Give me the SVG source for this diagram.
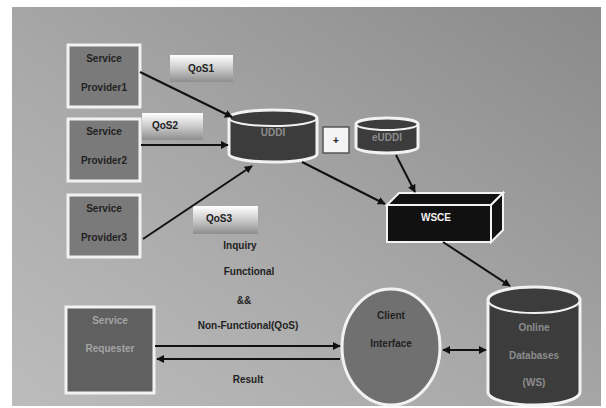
<svg xmlns="http://www.w3.org/2000/svg" width="606" height="408" viewBox="0 0 606 408">
<defs>
<linearGradient id="bg" x1="0" y1="1" x2="1" y2="0">
<stop offset="0" stop-color="#bcbcbc"/>
<stop offset="0.45" stop-color="#a8a8a8"/>
<stop offset="1" stop-color="#8a8a8a"/>
</linearGradient>
<linearGradient id="qos" x1="0" y1="0" x2="0" y2="1">
<stop offset="0" stop-color="#ffffff"/>
<stop offset="0.45" stop-color="#d0d0d0"/>
<stop offset="1" stop-color="#8e8e8e"/>
</linearGradient>
<marker id="ah" viewBox="0 0 10 10" refX="9" refY="5" markerWidth="4" markerHeight="4" orient="auto-start-reverse" markerUnits="strokeWidth">
<path d="M0,0 L10,5 L0,10 z" fill="#111"/>
</marker>
</defs>
<style>
.box{fill:#7a7a7a;stroke:#f2f2f2;stroke-width:3}
.t{font-family:"Liberation Sans",Arial,sans-serif;font-weight:bold;font-size:10px;text-anchor:middle;fill:#222}
.tw{font-family:"Liberation Sans",Arial,sans-serif;font-weight:bold;font-size:10px;text-anchor:middle;fill:#f2f2f2}
.td{font-family:"Liberation Sans",Arial,sans-serif;font-weight:bold;font-size:10px;text-anchor:middle;fill:#8c8c8c}
.qos{fill:url(#qos);stroke:none}
.cyl{fill:#3c3c3c;stroke:#f2f2f2;stroke-width:3}
.ln{stroke:#111;stroke-width:2;fill:none}
</style>
<rect x="0" y="0" width="606" height="408" fill="#ffffff"/>
<rect x="12" y="7" width="589" height="399" fill="url(#bg)"/>

<g id="sp1"><rect class="box" x="68" y="45" width="72" height="62"/><text class="t" x="104" y="62">Service</text><text class="t" x="104" y="91">Provider1</text></g>
<g id="sp2"><rect class="box" x="68" y="119" width="72" height="62"/><text class="t" x="104" y="135">Service</text><text class="t" x="104" y="164">Provider2</text></g>
<g id="sp3"><rect class="box" x="68" y="195" width="72" height="62"/><text class="t" x="104" y="212">Service</text><text class="t" x="104" y="241">Provider3</text></g>
<g id="req"><rect class="box" x="66" y="307" width="88" height="86" style="fill:#606060"/><text class="td" x="110" y="324" style="fill:#a4a4a4">Service</text><text class="td" x="110" y="352" style="fill:#a4a4a4">Requester</text></g>

<g id="qos1"><rect class="qos" x="170" y="55" width="63" height="27"/><text class="t" x="201" y="72">QoS1</text></g>
<g id="qos2"><rect class="qos" x="142" y="113" width="61" height="27"/><text class="t" x="165" y="129">QoS2</text></g>
<g id="qos3"><rect class="qos" x="193" y="206" width="65" height="28"/><text class="t" x="219" y="222">QoS3</text></g>

<g id="uddi">
<path class="cyl" d="M229,118 A44,8 0 0 1 317,118 L317,154 A44,8 0 0 1 229,154 Z"/>
<path d="M229,118 A44,8 0 0 0 317,118" fill="none" stroke="#f2f2f2" stroke-width="2"/>
<text class="td" x="273" y="136">UDDI</text>
</g>
<g id="plus"><rect x="323" y="127" width="26" height="26" fill="#f4f4f4" stroke="#555" stroke-width="1.5"/><text class="t" x="336" y="144">+</text></g>
<g id="euddi">
<path class="cyl" d="M356,124 A31,6 0 0 1 418,124 L418,147 A31,6 0 0 1 356,147 Z"/>
<path d="M356,124 A31,6 0 0 0 418,124" fill="none" stroke="#f2f2f2" stroke-width="2"/>
<text class="td" x="387" y="141">eUDDI</text>
</g>
<g id="wsce">
<path d="M387,205 L399,193 L503,193 L491,205 Z" fill="#111" stroke="#f2f2f2" stroke-width="2"/>
<path d="M491,205 L503,193 L503,230 L491,242 Z" fill="#111" stroke="#f2f2f2" stroke-width="2"/>
<rect x="387" y="205" width="104" height="37" fill="#111" stroke="#f2f2f2" stroke-width="2"/>
<text class="tw" x="436" y="221">WSCE</text>
</g>
<g id="client"><ellipse cx="391" cy="347" rx="49" ry="58" fill="#707070" stroke="#f2f2f2" stroke-width="3"/><text class="t" x="391" y="319">Client</text><text class="t" x="391" y="347">Interface</text></g>
<g id="db">
<path class="cyl" d="M488,300 A46,13 0 0 1 580,300 L580,392 A46,13 0 0 1 488,392 Z"/>
<path d="M488,300 A46,13 0 0 0 580,300" fill="none" stroke="#f2f2f2" stroke-width="2"/>
<text class="td" x="534" y="331">Online</text><text class="td" x="534" y="359">Databases</text><text class="td" x="534" y="386">(WS)</text>
</g>

<g id="labels">
<text class="t" x="240" y="249">Inquiry</text>
<text class="t" x="249" y="275">Functional</text>
<text class="t" x="244" y="304">&amp;&amp;</text>
<text class="t" x="248" y="329">Non-Functional(QoS)</text>
<text class="t" x="248" y="383">Result</text>
</g>

<g id="connectors">
<line class="ln" x1="140" y1="72" x2="232" y2="117" marker-end="url(#ah)"/>
<line class="ln" x1="141" y1="145" x2="228" y2="145" marker-end="url(#ah)"/>
<line class="ln" x1="143" y1="239" x2="252" y2="166" marker-end="url(#ah)"/>
<line class="ln" x1="302" y1="162" x2="385" y2="204" marker-end="url(#ah)"/>
<line class="ln" x1="396" y1="155" x2="415" y2="192" marker-end="url(#ah)"/>
<line class="ln" x1="443" y1="242" x2="510" y2="286" marker-end="url(#ah)"/>
<line class="ln" x1="155" y1="346" x2="340" y2="346" marker-end="url(#ah)"/>
<line class="ln" x1="340" y1="359" x2="157" y2="359" marker-end="url(#ah)"/>
<line class="ln" x1="443" y1="350" x2="486" y2="350" marker-start="url(#ah)" marker-end="url(#ah)"/>
</g>
</svg>
